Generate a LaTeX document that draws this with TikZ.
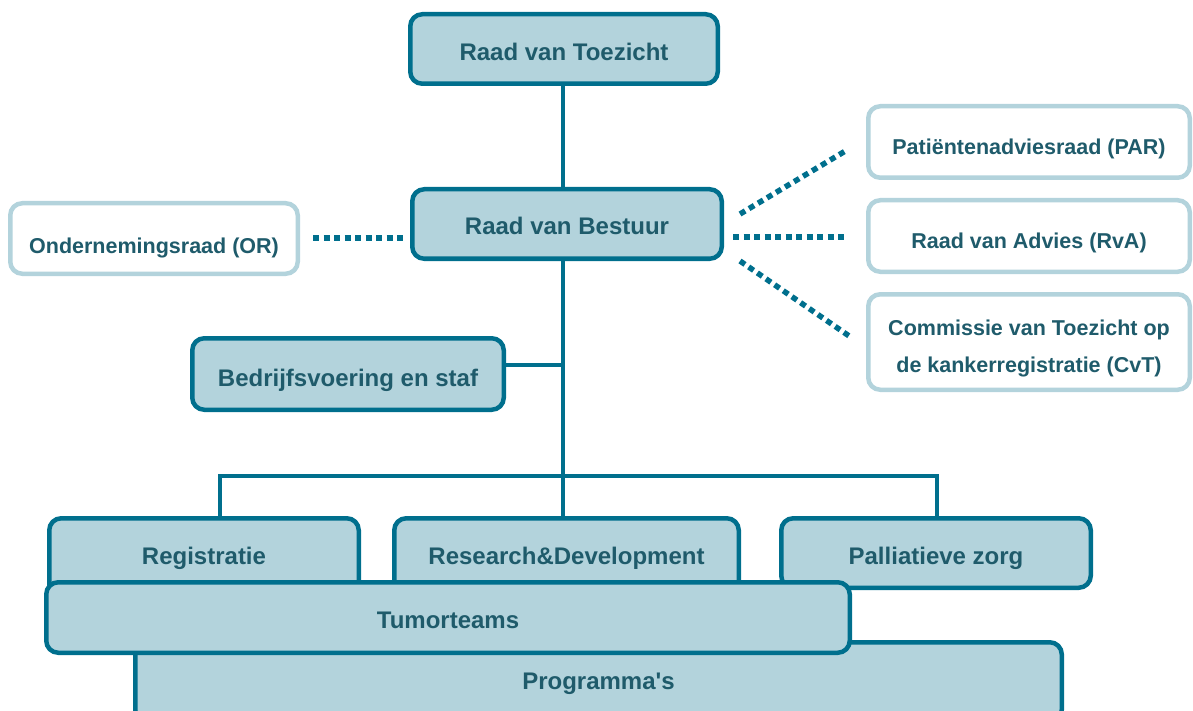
\documentclass[tikz,border=0pt]{standalone}
\usepackage{fontspec}
\setmainfont{Liberation Sans}[Ligatures=TeXOff]
\definecolor{dk}{RGB}{0,111,141}
\definecolor{fl}{RGB}{179,211,220}
\definecolor{lt}{RGB}{179,211,220}
\definecolor{tx}{RGB}{31,91,107}
\begin{document}
\begin{tikzpicture}[x=1pt,y=-1pt,
  mainbox/.style={draw=dk,fill=fl,line width=4.5pt,rounded corners=12pt,inner sep=0pt,
    text=tx,font=\fontsize{24}{28}\selectfont\bfseries,align=center,text depth=0pt},
  sidebox/.style={draw=lt,fill=white,line width=4.5pt,rounded corners=12pt,inner sep=0pt,
    text=tx,font=\fontsize{21.5}{36.7}\selectfont\bfseries,align=center,text depth=0pt},
  bl/.style={text height=2*#1},
  conn/.style={draw=dk,line width=4.5pt},
  dots/.style={draw=dk,line width=5.5pt,dash pattern=on 6pt off 4.5pt}]
\useasboundingbox (0,0) rectangle (1193,711);
% top
\node[mainbox,bl=12pt,minimum width=307.5,minimum height=69.5] (rvt) at (564,49) {Raad van Toezicht};
\node[mainbox,bl=11pt,minimum width=309.5,minimum height=69.5] (rvb) at (567,224) {Raad van Bestuur};
\node[sidebox,bl=15pt,minimum width=287.5,minimum height=70.5] (or) at (154,238.5) {Ondernemingsraad (OR)};
\node[sidebox,bl=13pt,minimum width=321.5,minimum height=71.5] (par) at (1029,142) {Patiëntenadviesraad (PAR)};
\node[sidebox,bl=13pt,minimum width=321.5,minimum height=71.5] (rva) at (1029,236) {Raad van Advies (RvA)};
\node[sidebox,bl=30.5pt,minimum width=321.5,minimum height=95.5] (cvt) at (1029,342) {Commissie van Toezicht op\\de kankerregistratie (CvT)};
\node[mainbox,bl=12pt,minimum width=311.5,minimum height=71.5] (bvs) at (348,374) {Bedrijfsvoering en staf};
% spine coordinates
\coordinate (j1) at (563,365);
\coordinate (cl) at (220,476);
\coordinate (cm) at (563,476);
\coordinate (cr) at (937,476);
% lower boxes
\node[mainbox,bl=7.3pt,minimum width=309.5,minimum height=77.5] (reg) at (204,557) {Registratie};
\node[mainbox,bl=7.3pt,minimum width=344.5,minimum height=77.5] (rd) at (566.5,557) {Research\&Development};
\node[mainbox,bl=11.3pt,minimum width=309.5,minimum height=69.5] (pal) at (936,553) {Palliatieve zorg};
\node[mainbox,bl=7.3pt,minimum width=926.5,minimum height=79.5] (prg) at (598.5,682) {Programma's};
\node[mainbox,bl=11pt,minimum width=803.5,minimum height=70.5] (tum) at (448,617.5) {Tumorteams};
% connectors
\draw[conn] (rvt.south -| cm) -- (rvb.north -| cm);
\draw[conn] (rvb.south -| cm) -- (rd.north -| cm);
\draw[conn] (bvs.east |- j1) -- (j1);
\draw[conn] (reg.north -| cl) -- (cl) -- (cr) -- (pal.north -| cr);
% dotted links
\coordinate (o1) at (313,238);
\coordinate (o2) at (403,238);
\coordinate (p1) at (740,214);
\coordinate (p2) at (847,150);
\coordinate (a1) at (733,237);
\coordinate (a2) at (846,237);
\coordinate (c1) at (740,261);
\coordinate (c2) at (852,338);
\draw[dots] (o1) -- (o2);
\draw[dots] (p1) -- (p2);
\draw[dots] (a1) -- (a2);
\draw[dots] (c1) -- (c2);
\end{tikzpicture}
\end{document}
